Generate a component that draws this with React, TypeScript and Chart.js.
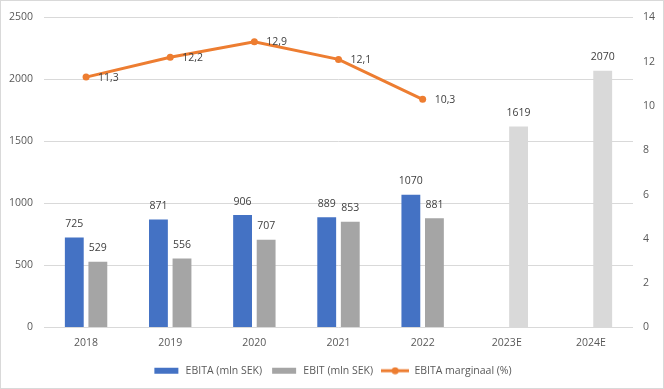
import React, { useEffect, useRef } from "react";
import { Chart, registerables } from "chart.js";

Chart.register(...registerables);

const categories = ["2018", "2019", "2020", "2021", "2022", "2023E", "2024E"];
const ebita = [725, 871, 906, 889, 1070, null, null];
const ebit = [529, 556, 707, 853, 881, 1619, 2070];
const margin = [11.3, 12.2, 12.9, 12.1, 10.3, null, null];
const leftTicks = [0, 500, 1000, 1500, 2000, 2500];
const rightTicks = [0, 2, 4, 6, 8, 10, 12, 14];

const BLUE = "#4472C4";
const GRAY = "#A5A5A5";
const LIGHT = "#D9D9D9";
const ORANGE = "#ED7D31";
const TEXT = "#595959";
const LABEL = "#404040";
const FONT = '"Open Sans", "DejaVu Sans", sans-serif';
const FS = 10.5;

function boxImage(color: string, w: number, h: number, totalW: number) {
  const c = document.createElement("canvas");
  c.width = totalW;
  c.height = 8;
  const ctx = c.getContext("2d")!;
  ctx.fillStyle = color;
  ctx.fillRect((totalW - w) / 2, (8 - h) / 2, w, h);
  return c;
}

function lineImage(color: string, totalW: number) {
  const c = document.createElement("canvas");
  c.width = totalW;
  c.height = 8;
  const ctx = c.getContext("2d")!;
  ctx.strokeStyle = color;
  ctx.lineWidth = 3;
  ctx.beginPath();
  ctx.moveTo(0, 4);
  ctx.lineTo(totalW, 4);
  ctx.stroke();
  ctx.fillStyle = color;
  ctx.beginPath();
  ctx.arc(totalW / 2, 4, 3.5, 0, Math.PI * 2);
  ctx.fill();
  return c;
}

const labelsPlugin = {
  id: "valueLabels",
  beforeDraw(chart: any) {
    const ctx = chart.ctx;
    ctx.save();
    ctx.fillStyle = "#FFFFFF";
    ctx.fillRect(0, 0, chart.width, chart.height);
    ctx.strokeStyle = LIGHT;
    ctx.lineWidth = 1;
    ctx.strokeRect(0.5, 0.5, chart.width - 1, chart.height - 1);
    ctx.restore();
  },
  afterDatasetsDraw(chart: any) {
    const ctx = chart.ctx;
    ctx.save();
    ctx.font = `${FS}px ${FONT}`;
    ctx.fillStyle = LABEL;
    ctx.textAlign = "center";
    ctx.textBaseline = "middle";
    [0, 1].forEach((di) => {
      const meta = chart.getDatasetMeta(di);
      const data = chart.data.datasets[di].data;
      meta.data.forEach((el: any, i: number) => {
        const v = data[i];
        if (v == null) return;
        ctx.fillText(String(v), el.x, el.y - 13.5);
      });
    });
    const lm = chart.getDatasetMeta(2);
    const ld = chart.data.datasets[2].data;
    ctx.textAlign = "left";
    lm.data.forEach((el: any, i: number) => {
      const v = ld[i];
      if (v == null) return;
      ctx.fillText(Number(v).toFixed(1).replace(".", ","), el.x + 12, el.y + 0.5);
    });
    ctx.restore();
  },
};

export default function App() {
  const ref = useRef<HTMLCanvasElement>(null);

  useEffect(() => {
    document.body.style.margin = "0";
    if (!ref.current) return;
    Chart.defaults.font.family = FONT;
    Chart.defaults.font.size = FS;
    Chart.defaults.color = TEXT;

    const imgs = [
      boxImage(BLUE, 24, 6, 28),
      boxImage(GRAY, 24, 6, 28),
      lineImage(ORANGE, 28),
    ];

    const chart = new Chart(ref.current, {
      type: "bar",
      data: {
        labels: categories,
        datasets: [
          {
            type: "bar",
            label: "EBITA (mln SEK)",
            data: ebita,
            backgroundColor: BLUE,
            yAxisID: "y",
            categoryPercentage: 0.56,
            barPercentage: 0.8,
            order: 1,
          },
          {
            type: "bar",
            label: "EBIT (mln SEK)",
            data: ebit,
            backgroundColor: ebit.map((_, i) => (i >= 5 ? LIGHT : GRAY)),
            yAxisID: "y",
            categoryPercentage: 0.56,
            barPercentage: 0.8,
            order: 1,
          },
          {
            type: "line",
            label: "EBITA marginaal (%)",
            data: margin,
            borderColor: ORANGE,
            backgroundColor: ORANGE,
            borderWidth: 3,
            pointRadius: 3.5,
            pointBackgroundColor: ORANGE,
            pointBorderWidth: 0,
            yAxisID: "y1",
            order: 0,
            spanGaps: false,
          } as any,
        ],
      },
      options: {
        responsive: false,
        animation: false,
        layout: { padding: { top: 15, bottom: 3, left: 0, right: 0 } },
        scales: {
          x: {
            grid: { display: false, drawTicks: false },
            border: { display: false },
            ticks: { padding: 9, color: TEXT, font: { size: FS } },
            afterFit: (s: any) => {
              s.height = 30;
            },
          },
          y: {
            position: "left",
            min: 0,
            max: 2500,
            afterBuildTicks: (s: any) => {
              s.ticks = leftTicks.map((v) => ({ value: v }));
            },
            grid: { color: LIGHT, drawTicks: false },
            border: { display: false },
            ticks: { padding: 11, color: TEXT, callback: (v: any) => String(v) },
            afterFit: (s: any) => {
              s.width = 44;
            },
          },
          y1: {
            position: "right",
            min: 0,
            max: 14,
            afterBuildTicks: (s: any) => {
              s.ticks = rightTicks.map((v) => ({ value: v }));
            },
            grid: { display: false, drawTicks: false },
            border: { display: false },
            ticks: { padding: 10, color: TEXT, callback: (v: any) => String(v) },
            afterFit: (s: any) => {
              s.width = 31;
            },
          },
        },
        plugins: {
          tooltip: { enabled: false },
          legend: {
            position: "bottom",
            labels: {
              usePointStyle: true,
              pointStyleWidth: 28,
              boxHeight: 8,
              padding: 8,
              color: TEXT,
              font: { size: FS },
              generateLabels: () =>
                ["EBITA (mln SEK)", "EBIT (mln SEK)", "EBITA marginaal (%)"].map((t, i) => ({
                  text: t,
                  pointStyle: imgs[i] as any,
                  fillStyle: "transparent",
                  strokeStyle: "transparent",
                  lineWidth: 0,
                  hidden: false,
                  datasetIndex: i,
                  fontColor: TEXT,
                })),
            },
          },
        },
      },
      plugins: [labelsPlugin],
    });
    return () => chart.destroy();
  }, []);

  return (
    <div style={{ position: "absolute", left: 0, top: 0, width: 664, height: 389 }}>
      <canvas ref={ref} width={664} height={389} style={{ display: "block", width: 664, height: 389 }} />
    </div>
  );
}
